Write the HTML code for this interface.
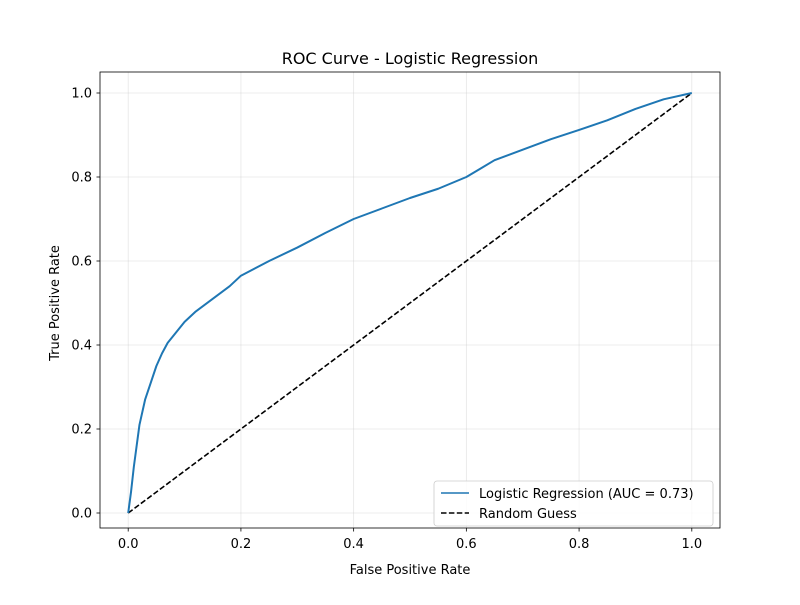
<!DOCTYPE html>
<html><head><meta charset="utf-8"><style>
body{margin:0;background:#fff;}
svg text{font-family:"DejaVu Sans","Liberation Sans",sans-serif;fill:#000;}
</style></head><body>
<svg id="chart" width="800" height="600">
<rect width="800" height="600" fill="#fff"/>
<g id="grid"></g>
<g id="ticks"></g>
<path id="diag" fill="none" stroke="#000" stroke-width="1.6" stroke-dasharray="5.5,2.4"/>
<path id="roc" fill="none" stroke="#1f77b4" stroke-width="2" stroke-linejoin="round"/>
<rect x="100" y="72" width="620" height="456" fill="none" stroke="#000" stroke-width="0.8"/>
<text x="410" y="64" text-anchor="middle" font-size="16">ROC Curve - Logistic Regression</text>
<text x="410" y="574" text-anchor="middle" font-size="13">False Positive Rate</text>
<text x="59" y="303" text-anchor="middle" font-size="13" transform="rotate(-90 59 303)">True Positive Rate</text>
<g>
<rect x="434" y="481" width="279" height="45" rx="3" fill="#fff" fill-opacity="0.8" stroke="#ccc" stroke-width="0.8"/>
<line x1="441" y1="493" x2="469" y2="493" stroke="#1f77b4" stroke-width="1.5"/>
<text x="479" y="498" font-size="13">Logistic Regression (AUC = 0.73)</text>
<line x1="441" y1="513" x2="469" y2="513" stroke="#000" stroke-width="1.5" stroke-dasharray="5.5,2.4"/>
<text x="479" y="518" font-size="13">Random Guess</text>
</g>
</svg>
<script>
const fprValues=[0,0.005,0.01,0.015,0.02,0.03,0.04,0.05,0.06,0.07,0.085,0.1,0.12,0.15,0.18,0.2,0.25,0.3,0.35,0.4,0.45,0.5,0.55,0.6,0.625,0.65,0.7,0.75,0.8,0.85,0.9,0.95,1];
const tprValues=[0,0.05,0.11,0.16,0.21,0.27,0.31,0.35,0.38,0.405,0.43,0.455,0.48,0.51,0.54,0.565,0.60,0.632,0.667,0.70,0.725,0.75,0.772,0.80,0.82,0.84,0.865,0.89,0.912,0.935,0.962,0.985,1];
const diagX=[0,1];
const diagY=[0,1];
const xTicks=[0,0.2,0.4,0.6,0.8,1.0];
const yTicks=[0,0.2,0.4,0.6,0.8,1.0];
const X=v=>128.2+v*563.6;
const Y=v=>513-v*420;
const NS="http://www.w3.org/2000/svg";
const grid=document.getElementById('grid'),ticks=document.getElementById('ticks');
function mk(tag,attrs,parent){const e=document.createElementNS(NS,tag);for(const k in attrs)e.setAttribute(k,attrs[k]);parent.appendChild(e);return e;}
xTicks.forEach(t=>{
 const g=mk('line',{x1:X(t),x2:X(t),y1:72,y2:528,stroke:'#b0b0b0','stroke-width':0.8,'stroke-opacity':0.3},grid);
 
 
 mk('line',{x1:X(t),x2:X(t),y1:528,y2:531.5,stroke:'#000','stroke-width':0.8},ticks);
 const tx=mk('text',{x:X(t),y:548,'text-anchor':'middle','font-size':13},ticks);
 tx.textContent=t.toFixed(1);
 
 
});
yTicks.forEach(t=>{
 const g=mk('line',{x1:100,x2:720,y1:Y(t),y2:Y(t),stroke:'#b0b0b0','stroke-width':0.8,'stroke-opacity':0.3},grid);
 
 
 mk('line',{x1:96.5,x2:100,y1:Y(t),y2:Y(t),stroke:'#000','stroke-width':0.8},ticks);
 const tx=mk('text',{x:92,y:Y(t)+4.5,'text-anchor':'end','font-size':13},ticks);
 tx.textContent=t.toFixed(1);
 
 
});
document.getElementById('roc').setAttribute('d',fprValues.map((v,i)=>(i?'L':'M')+X(v)+','+Y(tprValues[i])).join(''));
document.getElementById('diag').setAttribute('d',diagX.map((v,i)=>(i?'L':'M')+X(v)+','+Y(diagY[i])).join(''));
</script>
</body></html>
